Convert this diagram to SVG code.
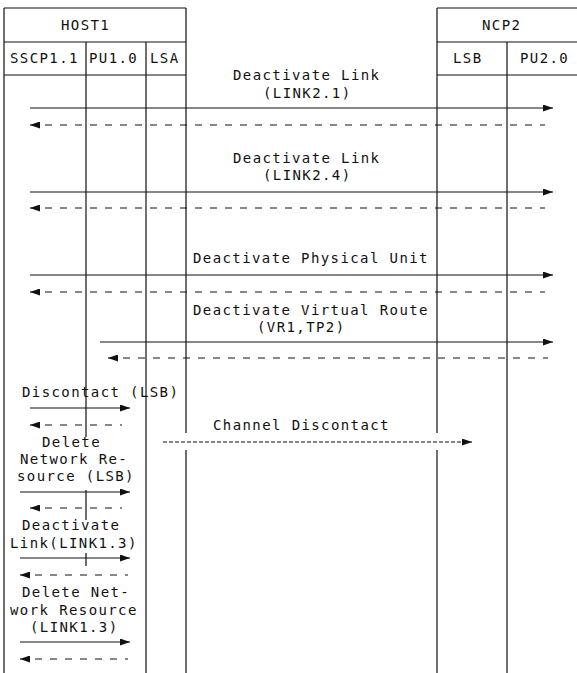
<svg xmlns="http://www.w3.org/2000/svg" width="577" height="673" viewBox="0 0 577 673">
<style>
.t{font-family:"DejaVu Sans Mono","Liberation Mono",monospace;font-size:14px;fill:#111;letter-spacing:1.4px}
.ln{stroke:#111;stroke-width:1.2;fill:none}
.s{stroke:#111;stroke-width:1.2;fill:none}
.d{stroke:#111;stroke-width:1.2;fill:none;stroke-dasharray:7 8}
.f{stroke:#111;stroke-width:1.1;fill:none;stroke-dasharray:4 2}
</style>
<defs>
<marker id="ar" markerUnits="userSpaceOnUse" markerWidth="11" markerHeight="8" refX="10" refY="3.5" orient="auto"><path d="M0,0 L10,3.5 L0,7 z" fill="#111"/></marker>
<marker id="al" markerUnits="userSpaceOnUse" markerWidth="11" markerHeight="8" refX="0" refY="3.5" orient="auto"><path d="M10,0 L0,3.5 L10,7 z" fill="#111"/></marker>
</defs>
<rect width="577" height="673" fill="#fff"/>
<g id="host1">
<path class="ln" d="M4,8 H186 M4,42 H186 M4,75 H186 M4,8 V673 M86,42 V437 M86,490 V520 M86,553 V566 M146,42 V673 M186,8 V433 M186,450 V673"/>
<text class="t" x="61" y="30">HOST1</text>
</g>
<g id="sscp11"><text class="t" x="10" y="63">SSCP1.1</text></g>
<g id="pu10"><text class="t" x="89" y="63">PU1.0</text></g>
<g id="lsa"><text class="t" x="150" y="63">LSA</text></g>
<g id="ncp2">
<path class="ln" d="M437,8 H577 M437,42 H577 M437,75 H577 M437,8 V433 M437,450 V673 M507,42 V673"/>
<text class="t" x="482" y="30">NCP2</text>
</g>
<g id="lsb"><text class="t" x="453" y="63">LSB</text></g>
<g id="pu20"><text class="t" x="520" y="63">PU2.0</text></g>
<g id="connectors">
<path class="s" d="M30,108 H553" marker-end="url(#ar)"/>
<path class="d" d="M30,125 H545" marker-start="url(#al)"/>
<path class="s" d="M30,192 H553" marker-end="url(#ar)"/>
<path class="d" d="M30,208 H545" marker-start="url(#al)"/>
<path class="s" d="M30,275 H553" marker-end="url(#ar)"/>
<path class="d" d="M30,292 H545" marker-start="url(#al)"/>
<path class="s" d="M100,342 H553" marker-end="url(#ar)"/>
<path class="d" d="M108,358 H548" marker-start="url(#al)"/>
<path class="s" d="M30,408 H130" marker-end="url(#ar)"/>
<path class="d" d="M30,425 H122" marker-start="url(#al)"/>
<path class="f" d="M163,442 H472" marker-end="url(#ar)"/>
<path class="s" d="M20,492 H130" marker-end="url(#ar)"/>
<path class="d" d="M30,508 H122" marker-start="url(#al)"/>
<path class="s" d="M20,558 H130" marker-end="url(#ar)"/>
<path class="d" d="M20,575 H128" marker-start="url(#al)"/>
<path class="s" d="M20,642 H130" marker-end="url(#ar)"/>
<path class="d" d="M20,659 H128" marker-start="url(#al)"/>
<text class="t" x="233" y="80">Deactivate Link</text>
<text class="t" x="263" y="98">(LINK2.1)</text>
<text class="t" x="233" y="163">Deactivate Link</text>
<text class="t" x="263" y="180">(LINK2.4)</text>
<text class="t" x="193" y="263">Deactivate Physical Unit</text>
<text class="t" x="193" y="315">Deactivate Virtual Route</text>
<text class="t" x="257" y="332">(VR1,TP2)</text>
<text class="t" x="22" y="397">Discontact (LSB)</text>
<text class="t" x="213" y="430">Channel Discontact</text>
<text class="t" x="42" y="447">Delete</text>
<text class="t" x="20" y="464">Network Re-</text>
<text class="t" x="17" y="481">source (LSB)</text>
<text class="t" x="22" y="530">Deactivate</text>
<text class="t" x="10" y="548">Link(LINK1.3)</text>
<text class="t" x="22" y="597">Delete Net-</text>
<text class="t" x="10" y="615">work Resource</text>
<text class="t" x="30" y="632">(LINK1.3)</text>
</g>
</svg>
